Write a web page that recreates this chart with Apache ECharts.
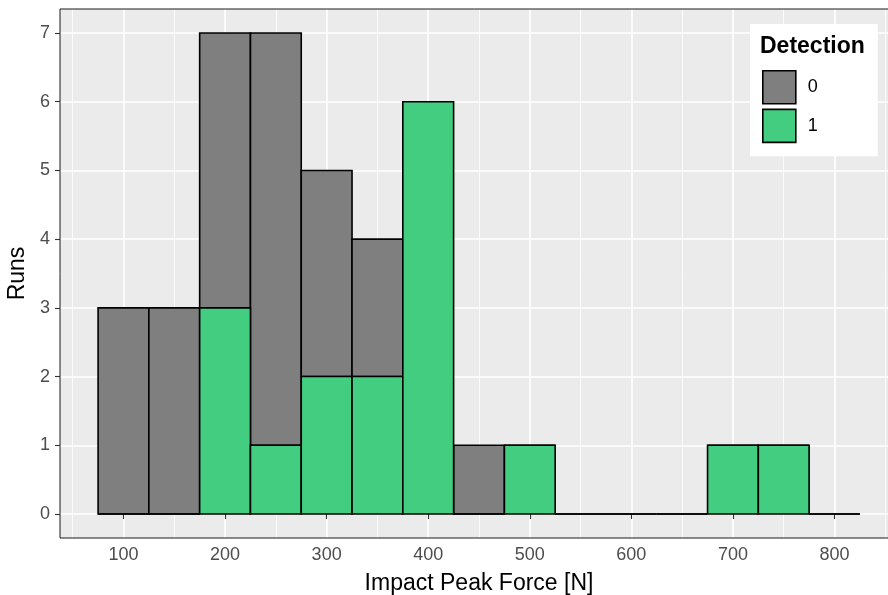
<!DOCTYPE html>
<html>
<head>
<meta charset="utf-8">
<script src="https://cdn.jsdelivr.net/npm/echarts@6/dist/echarts.min.js"></script>
<style>
  html, body { margin: 0; padding: 0; background: #ffffff; }
  #chart { width: 888px; height: 595px; }
</style>
</head>
<body>
<div id="chart"></div>
<script>
// Histogram of impact peak force, 50 N bins, stacked by detection outcome
const binCenters = [100, 150, 200, 250, 300, 350, 400, 450, 500, 550, 600, 650, 700, 750, 800];
const detected   = [0, 0, 3, 1, 2, 2, 6, 0, 1, 0, 0, 0, 1, 1, 0];   // Detection = 1
const missed     = [3, 3, 4, 6, 3, 2, 0, 1, 0, 0, 0, 0, 0, 0, 0];   // Detection = 0
const xTicks     = [100, 200, 300, 400, 500, 600, 700, 800];
const xMinor     = [50, 150, 250, 350, 450, 550, 650, 750, 850];
const yTicks     = [0, 1, 2, 3, 4, 5, 6, 7];
const BIN_WIDTH  = 50;

const FONT = "'Liberation Sans', Arial, sans-serif";

// stacked ranges: detected runs sit at the bottom, missed runs on top
const detectedData = binCenters.map((c, i) => [c, 0, detected[i]]);
const missedData   = binCenters.map((c, i) => [c, detected[i], detected[i] + missed[i]]);

function renderBin(params, api) {
  const c = api.value(0), lo = api.value(1), hi = api.value(2);
  const p0 = api.coord([c - BIN_WIDTH / 2, hi]);
  const p1 = api.coord([c + BIN_WIDTH / 2, lo]);
  return {
    type: 'rect',
    shape: { x: p0[0], y: p0[1], width: p1[0] - p0[0], height: p1[1] - p0[1] },
    style: { fill: api.visual('color'), stroke: '#000000', lineWidth: 1.6 }
  };
}

const panel = { left: 60, top: 9, width: 838, height: 529, outerBoundsMode: 'none', containLabel: false };

const chart = echarts.init(document.getElementById('chart'), null, { renderer: 'canvas' });

chart.setOption({
  animation: false,
  textStyle: { fontFamily: FONT },
  title: {
    text: 'Detection',
    left: 760, top: 35,
    padding: 0,
    textStyle: { fontFamily: FONT, fontSize: 23, fontWeight: 'bold', color: '#000000' },
    z: 20
  },
  legend: {
    orient: 'vertical',
    left: 750, top: 24,
    padding: [46, 60, 13, 12],
    backgroundColor: '#ffffff',
    itemWidth: 33, itemHeight: 33, itemGap: 4,
    icon: 'rect',
    selectedMode: false,
    itemStyle: { borderColor: '#000000', borderWidth: 1.6 },
    textStyle: { fontFamily: FONT, fontSize: 18, color: '#000000', padding: [0, 0, 0, 7] },
    data: ['0', '1'],
    z: 10
  },
  grid: [
    // plotting panel with grey background
    Object.assign({ show: true, backgroundColor: '#EBEBEB', borderWidth: 0, z: 0 }, panel),
    // panel frame, kept above the grid lines
    Object.assign({ show: true, backgroundColor: 'transparent', borderColor: '#1a1a1a', borderWidth: 1, z: 5 }, panel)
  ],
  xAxis: [
    {
      type: 'value',
      gridIndex: 0,
      min: 37.5, max: 862.5,
      name: 'Impact Peak Force [N]',
      nameLocation: 'middle',
      nameGap: 34,
      nameTextStyle: { fontFamily: FONT, fontSize: 23, color: '#000000' },
      axisLine: { show: false },
      axisTick: { show: true, length: 5, customValues: xTicks, lineStyle: { color: '#333333', width: 1.1 } },
      axisLabel: { customValues: xTicks, margin: 8, fontFamily: FONT, fontSize: 18, color: '#4D4D4D' },
      splitLine: { show: true, lineStyle: { color: '#ffffff', width: 1.6 } }
    },
    {
      // minor vertical grid lines between the labelled ticks (no tick marks)
      type: 'value',
      gridIndex: 0,
      min: 37.5, max: 862.5,
      position: 'bottom',
      axisLine: { show: false },
      axisTick: { show: false, length: 0, customValues: xMinor },
      axisLabel: { show: false, customValues: xMinor },
      splitLine: { show: true, lineStyle: { color: '#ffffff', width: 0.8 } }
    },
    {
      type: 'value', gridIndex: 1, min: 37.5, max: 862.5, show: false
    }
  ],
  yAxis: [
    {
      type: 'value',
      gridIndex: 0,
      min: -0.35, max: 7.35,
      name: 'Runs',
      nameLocation: 'middle',
      nameGap: 28,
      nameTextStyle: { fontFamily: FONT, fontSize: 23, color: '#000000' },
      axisLine: { show: false },
      axisTick: { show: true, length: 5, customValues: yTicks, lineStyle: { color: '#333333', width: 1.1 } },
      axisLabel: { customValues: yTicks, margin: 10, fontFamily: FONT, fontSize: 18, color: '#4D4D4D' },
      splitLine: { show: true, lineStyle: { color: '#ffffff', width: 1.6 } }
    },
    {
      type: 'value', gridIndex: 1, min: -0.35, max: 7.35, show: false
    }
  ],
  series: [
    {
      name: '0',
      type: 'custom',
      xAxisIndex: 0,
      yAxisIndex: 0,
      renderItem: renderBin,
      itemStyle: { color: '#7F7F7F', borderColor: '#000000', borderWidth: 1.6 },
      encode: { x: 0, y: [1, 2] },
      data: missedData,
      z: 3
    },
    {
      name: '1',
      type: 'custom',
      xAxisIndex: 0,
      yAxisIndex: 0,
      renderItem: renderBin,
      itemStyle: { color: '#43CD80', borderColor: '#000000', borderWidth: 1.6 },
      encode: { x: 0, y: [1, 2] },
      data: detectedData,
      z: 3
    }
  ]
});
</script>
</body>
</html>
